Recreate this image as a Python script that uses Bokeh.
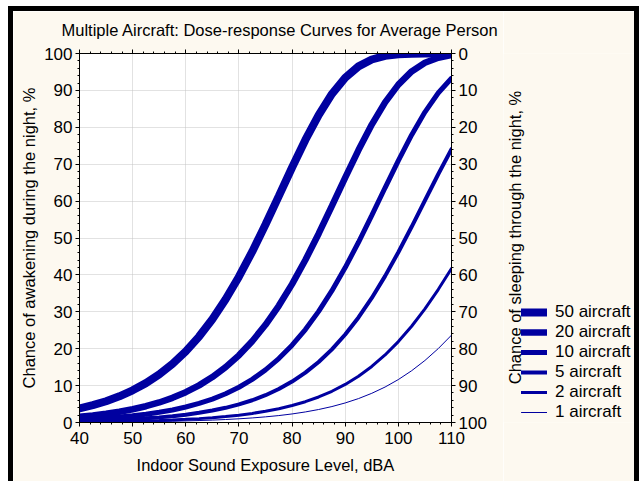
from bokeh.plotting import figure
from bokeh.layouts import row
from bokeh.models import (LinearAxis, Range1d, Legend, LegendItem, Label,
                          SingleIntervalTicker, CustomLabelingPolicy)
from bokeh.embed import file_html
from bokeh.resources import INLINE

# Indoor sound exposure level (dBA)
level = [40, 42.5, 45, 47.5, 50, 52.5, 55, 57.5, 60, 62.5, 65, 67.5, 70, 72.5,
         75, 77.5, 80, 82.5, 85, 87.5, 90, 92.5, 95, 97.5, 100, 102.5, 105,
         107.5, 110]

# Chance of awakening (%) for each number of aircraft
a1 = [0.08, 0.10, 0.12, 0.15, 0.18, 0.23, 0.28, 0.35, 0.43, 0.53, 0.65, 0.81,
      1.00, 1.24, 1.53, 1.88, 2.32, 2.86, 3.52, 4.32, 5.30, 6.48, 7.91, 9.61,
      11.64, 14.03, 16.81, 20.02, 23.67]
a2 = [0.15, 0.19, 0.24, 0.29, 0.36, 0.45, 0.56, 0.69, 0.85, 1.05, 1.30, 1.61,
      1.99, 2.46, 3.03, 3.73, 4.59, 5.64, 6.92, 8.46, 10.32, 12.55, 15.19,
      18.30, 21.93, 26.09, 30.80, 36.03, 41.73]
a5 = [0.39, 0.48, 0.59, 0.73, 0.91, 1.12, 1.39, 1.72, 2.12, 2.62, 3.23, 3.98,
      4.90, 6.03, 7.40, 9.07, 11.09, 13.51, 16.40, 19.83, 23.84, 28.48, 33.76,
      39.67, 46.14, 53.04, 60.16, 67.28, 74.08]
a10 = [0.77, 0.96, 1.18, 1.46, 1.81, 2.23, 2.76, 3.40, 4.19, 5.16, 6.35, 7.80,
       9.56, 11.69, 14.26, 17.32, 20.94, 25.19, 30.11, 35.72, 41.99, 48.84,
       56.12, 63.61, 70.99, 77.94, 84.13, 89.29, 93.28]
a20 = [1.54, 1.90, 2.35, 2.90, 3.58, 4.41, 5.43, 6.69, 8.21, 10.06, 12.30,
       14.99, 18.21, 22.02, 26.48, 31.63, 37.50, 44.04, 51.16, 58.68, 66.35,
       73.83, 80.74, 86.75, 91.58, 95.14, 97.48, 98.85, 99.55]
a50 = [3.80, 4.69, 5.77, 7.09, 8.71, 10.67, 13.04, 15.89, 19.28, 23.29, 27.97,
       33.38, 39.50, 46.30, 53.65, 61.35, 69.12, 76.57, 83.33, 89.03, 93.43,
       96.50, 98.37, 99.36, 99.79, 99.95, 99.99, 100.00, 100.00]

series_labels = ["50 aircraft", "20 aircraft", "10 aircraft", "5 aircraft",
                 "2 aircraft", "1 aircraft"]
series_values = [a50, a20, a10, a5, a2, a1]
series_widths = [8, 6.5, 5, 4, 3, 1]

FONT = "Liberation Sans"
BLUE = "#0000a0"
BG = "#fdf9f0"
H = 475

# ---------------- main chart ----------------
p = figure(width=495, height=H, x_range=Range1d(40, 110), y_range=Range1d(0, 100),
           output_backend="svg", toolbar_location=None,
           min_border_left=66, min_border_right=57, min_border_top=41,
           min_border_bottom=64,
           background_fill_color="white", border_fill_color=BG,
           outline_line_color="black")
p.styles = {"border-top": "5px solid black", "border-left": "5px solid black"}

left = p.yaxis[0]
bottom = p.xaxis[0]

p.extra_y_ranges = {"sleep": Range1d(100, 0)}
right = LinearAxis(y_range_name="sleep")
p.add_layout(right, "right")
top = LinearAxis()
p.add_layout(top, "above")

for ax in [left, bottom, right, top]:
    ax.ticker = SingleIntervalTicker(interval=10, num_minor_ticks=5)
    ax.axis_line_color = "black"
    ax.major_tick_line_color = "black"
    ax.minor_tick_line_color = "black"
    ax.major_tick_out = 4
    ax.major_tick_in = 0
    ax.minor_tick_out = 2
    ax.minor_tick_in = 0
    ax.major_label_text_font = FONT
    ax.major_label_text_font_size = "17px"
    ax.major_label_text_color = "black"
    ax.major_label_standoff = 3
    ax.axis_label_text_font = FONT
    ax.axis_label_text_font_size = "16.5px"
    ax.axis_label_text_font_style = "normal"
    ax.axis_label_text_color = "black"

top.major_label_policy = CustomLabelingPolicy(
    code="for (const i of indices) indices.unset(i); return indices")
top.major_label_text_font_size = "1px"
top.major_label_standoff = 0
bottom.major_label_standoff = 5
bottom.axis_label = "Indoor Sound Exposure Level, dBA"
bottom.axis_label_standoff = 9
left.axis_label = "Chance of awakening during the night, %"
left.axis_label_standoff = 3

for g in [p.xgrid[0], p.ygrid[0]]:
    g.ticker = SingleIntervalTicker(interval=10)
    g.grid_line_color = "#c4c4c4"
    g.grid_line_dash = "1 1"
    g.grid_line_width = 1

p.title.text = "Multiple Aircraft: Dose-response Curves for Average Person"
p.title.text_font = FONT
p.title.text_font_size = "16.5px"
p.title.text_font_style = "normal"
p.title.text_color = "black"
p.title.align = "left"
p.title.offset = -18
p.title.standoff = 14

for vals, w in zip(series_values, series_widths):
    p.line(level, vals, line_color=BLUE, line_width=w, line_cap="round")

# ---------------- right side: scale title + legend ----------------
# (the key lines repeat the same data; it falls outside this panel's range)
p2 = figure(width=136, height=H, x_range=Range1d(0, 1), y_range=Range1d(0, 1),
            x_axis_type=None, y_axis_type=None, title=None,
            output_backend="svg", toolbar_location=None,
            min_border_left=0, min_border_right=0, min_border_top=0,
            min_border_bottom=0,
            background_fill_color=BG, border_fill_color=BG,
            outline_line_color=None)
p2.styles = {"border-top": "5px solid black", "border-right": "5px solid black"}

keys = []
for vals, w in zip(series_values, series_widths):
    keys.append(p2.line(level, vals, line_color=BLUE, line_width=w,
                        line_cap="round"))

legend = Legend(items=[LegendItem(label=lab, renderers=[r])
                       for lab, r in zip(series_labels, keys)],
                location=(18, 0), glyph_width=26, glyph_height=20,
                label_height=20, label_standoff=8, spacing=0, padding=0,
                margin=0, border_line_alpha=0, background_fill_alpha=0,
                label_text_font=FONT, label_text_font_size="17px",
                label_text_color="black")
p2.add_layout(legend)

right_title = Label(x=11, y=185, x_units="screen", y_units="screen",
                    text="Chance of sleeping through the night, %",
                    angle=90, angle_units="deg", text_align="center",
                    text_baseline="middle", text_font=FONT,
                    text_font_size="16.5px", text_color="black")
p2.add_layout(right_title)

layout = row(p, p2)
layout.styles = {"margin-left": "8px", "margin-top": "6px"}

open("out.html", "w").write(file_html(layout, INLINE))
